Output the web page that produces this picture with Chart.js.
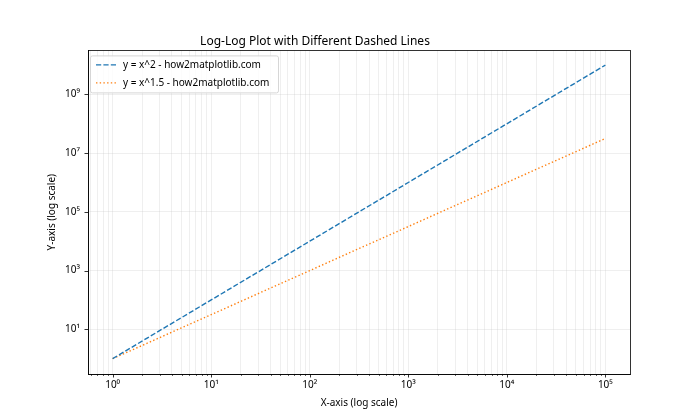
<!DOCTYPE html>
<html>
<head>
<meta charset="utf-8">
<script src="https://cdn.jsdelivr.net/npm/chart.js@4"></script>
<style>
  html, body { margin: 0; padding: 0; background: #fff; }
  canvas { display: block; }
</style>
</head>
<body>
<canvas id="c" width="700" height="420"></canvas>
<script>
// ---- data ----
const xValues   = [1, 10, 100, 1000, 10000, 100000];
const ySquare   = [1, 100, 10000, 1000000, 100000000, 10000000000];
const yPow15    = [1, 31.62, 1000, 31623, 1000000, 31622777];
const seriesNames = ['y = x^2 - how2matplotlib.com', 'y = x^1.5 - how2matplotlib.com'];
const xTickValues = [0.6, 0.7, 0.8, 0.9,
  1, 2, 3, 4, 5, 6, 7, 8, 9,
  10, 20, 30, 40, 50, 60, 70, 80, 90,
  100, 200, 300, 400, 500, 600, 700, 800, 900,
  1000, 2000, 3000, 4000, 5000, 6000, 7000, 8000, 9000,
  10000, 20000, 30000, 40000, 50000, 60000, 70000, 80000, 90000,
  100000];
const yTickValues = [10, 1000, 100000, 10000000, 1000000000];
const supDigits = ['⁰','¹','²','³','⁴','⁵','⁶','⁷','⁸','⁹'];

const FONT = "'Noto Sans', 'DejaVu Sans', sans-serif";
const GRID = 'rgba(176,176,176,0.25)';

function isPow10(v) {
  const e = Math.log10(v);
  return Math.abs(e - Math.round(e)) < 1e-9;
}
function powLabel(v) {
  if (!isPow10(v)) return '';
  const e = Math.round(Math.log10(v));
  return '10' + String(e).split('').map(d => supDigits[+d]).join('');
}

const framePlugin = {
  id: 'frame',
  afterDraw(chart) {
    const ctx = chart.ctx;
    const a = chart.chartArea;
    ctx.save();
    // tick marks
    ctx.strokeStyle = '#000';
    const xs = chart.scales.x, ys = chart.scales.y;
    xs.ticks.forEach(t => {
      const px = Math.round(xs.getPixelForValue(t.value)) + 0.5;
      const major = isPow10(t.value);
      ctx.lineWidth = major ? 0.8 : 0.6;
      const len = major ? 3.5 : 2;
      ctx.beginPath();
      ctx.moveTo(px, a.bottom);
      ctx.lineTo(px, a.bottom + len);
      ctx.stroke();
    });
    ys.ticks.forEach(t => {
      const py = Math.round(ys.getPixelForValue(t.value)) + 0.5;
      ctx.lineWidth = 0.8;
      ctx.beginPath();
      ctx.moveTo(a.left, py);
      ctx.lineTo(a.left - 3.5, py);
      ctx.stroke();
    });
    // spines
    ctx.lineWidth = 0.8;
    ctx.strokeRect(Math.round(a.left) + 0.5, Math.round(a.top) + 0.5,
                   Math.round(a.right - a.left), Math.round(a.bottom - a.top));
    // legend
    const lx = a.left + 2, ly = a.top + 5, lw = 188, lh = 37;
    ctx.beginPath();
    if (ctx.roundRect) ctx.roundRect(lx + 0.5, ly + 0.5, lw, lh, 2);
    else ctx.rect(lx + 0.5, ly + 0.5, lw, lh);
    ctx.fillStyle = 'rgba(255,255,255,0.8)';
    ctx.fill();
    ctx.strokeStyle = '#d6d6d6';
    ctx.lineWidth = 1;
    ctx.stroke();
    chart.data.datasets.forEach((ds, i) => {
      const cy = ly + 9.5 + i * 18;
      ctx.strokeStyle = ds.borderColor;
      ctx.lineWidth = ds.borderWidth;
      ctx.setLineDash(ds.borderDash);
      ctx.beginPath();
      ctx.moveTo(lx + 6, cy);
      ctx.lineTo(lx + 27, cy);
      ctx.stroke();
      ctx.setLineDash([]);
      ctx.fillStyle = '#000';
      ctx.font = '10px ' + FONT;
      ctx.textBaseline = 'middle';
      ctx.textAlign = 'left';
      ctx.fillText(ds.label, lx + 33, cy);
    });
    ctx.restore();
  }
};

new Chart(document.getElementById('c'), {
  type: 'line',
  data: {
    datasets: [
      {
        label: seriesNames[0],
        data: xValues.map((x, i) => ({ x: x, y: ySquare[i] })),
        borderColor: '#1f77b4',
        borderWidth: 1.4,
        borderDash: [5.2, 2.2],
        pointRadius: 0,
        fill: false,
        tension: 0
      },
      {
        label: seriesNames[1],
        data: xValues.map((x, i) => ({ x: x, y: yPow15[i] })),
        borderColor: '#ff7f0e',
        borderWidth: 1.4,
        borderDash: [1.4, 2.3],
        pointRadius: 0,
        fill: false,
        tension: 0
      }
    ]
  },
  options: {
    responsive: false,
    animation: false,
    events: [],
    layout: { padding: { left: 0, right: 70, top: 0, bottom: 0 } },
    plugins: {
      legend: { display: false },
      tooltip: { enabled: false },
      title: {
        display: true,
        text: 'Log-Log Plot with Different Dashed Lines',
        color: '#000',
        font: { family: FONT, size: 12, weight: 'normal' },
        padding: { top: 34, bottom: 2 }
      }
    },
    scales: {
      x: {
        type: 'logarithmic',
        min: Math.pow(10, -0.25),
        max: Math.pow(10, 5.25),
        afterBuildTicks: s => { s.ticks = xTickValues.map(v => ({ value: v })); },
        afterFit: s => { s.height = 46; },
        ticks: {
          autoSkip: false, maxRotation: 0, minRotation: 0,
          padding: 5, color: '#000',
          font: { family: FONT, size: 10 },
          callback: v => powLabel(v)
        },
        grid: { color: GRID, lineWidth: 0.8, drawTicks: false },
        border: { color: '#000', width: 0.8 },
        title: {
          display: true, text: 'X-axis (log scale)', color: '#000',
          font: { family: FONT, size: 10 },
          padding: { top: 0, bottom: 11 }
        }
      },
      y: {
        type: 'logarithmic',
        min: Math.pow(10, -0.5),
        max: Math.pow(10, 10.5),
        afterBuildTicks: s => { s.ticks = yTickValues.map(v => ({ value: v })); },
        afterFit: s => { s.width = 88; },
        ticks: {
          autoSkip: false, padding: 8, color: '#000',
          font: { family: FONT, size: 10 },
          callback: v => powLabel(v)
        },
        grid: { color: GRID, lineWidth: 0.8, drawTicks: false },
        border: { color: '#000', width: 0.8 },
        title: {
          display: true, text: 'Y-axis (log scale)', color: '#000',
          font: { family: FONT, size: 10 },
          padding: { top: 46, bottom: 0 }
        }
      }
    }
  },
  plugins: [framePlugin]
});
</script>
</body>
</html>
